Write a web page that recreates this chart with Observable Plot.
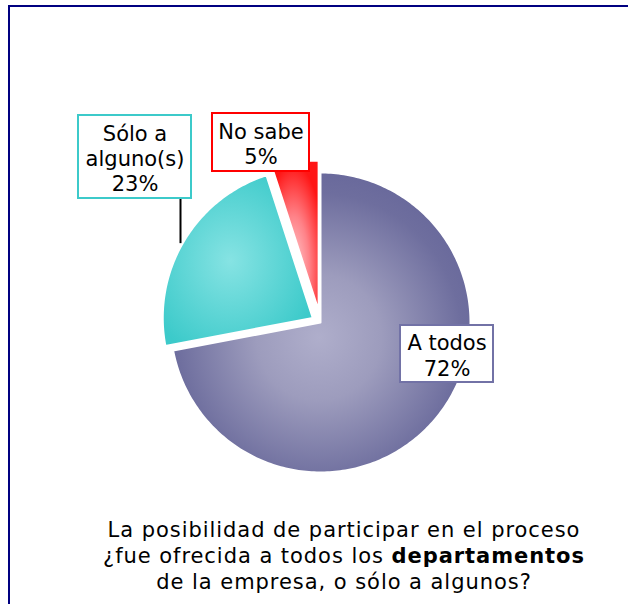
<!DOCTYPE html>
<html><head><meta charset="utf-8">
<script src="https://cdn.jsdelivr.net/npm/d3@7"></script>
<script src="https://cdn.jsdelivr.net/npm/@observablehq/plot@0.6"></script>
<style>
body{margin:0;background:#fff;font-family:"DejaVu Sans",Verdana,sans-serif;}
#root{position:relative;width:628px;height:604px;overflow:hidden;background:#fff}
#frame{position:absolute;left:8px;top:5px;width:640px;height:620px;border-top:2px solid #000080;border-left:2px solid #000080;}
#chart{position:absolute;left:0;top:0}
#caption{position:absolute;left:60px;right:0;top:517px;text-align:center;font-size:21px;line-height:26px;color:#000;letter-spacing:0.95px}
</style></head><body>
<div id="root"><div id="frame"></div><div id="chart"></div>
<div id="caption">La posibilidad de participar en el proceso<br>¿fue ofrecida a todos los <b>departamentos</b><br>de la empresa, o sólo a algunos?</div></div>
<script>
// ---- data ----
const categories = ["A todos", "Sólo a alguno(s)", "No sabe"];
const categoryLines = ["A todos", "Sólo a\nalguno(s)", "No sabe"];
const values = [72, 23, 5];

// ---- layout / style (pixels) ----
const W = 628, H = 500;
const center = [320, 322], radius = 150;
const explode = [0, 9, 12];
const boxStroke = ["#7272a6", "#3ccaca", "#ff0000"];
const boxes = [ // label box: left, top, right, bottom
  [400, 325, 493, 382],
  [78, 115, 191, 198],
  [212, 113, 309, 171]
];
const leaderSlice = 1, leaderX = 180;

const arcs = d3.pie().sort(null)(values);
const points = [];
arcs.forEach((a, i) => {
  const mid = (a.startAngle + a.endAngle) / 2;
  const ox = center[0] + explode[i] * Math.sin(mid);
  const oy = center[1] - explode[i] * Math.cos(mid);
  points.push({k: i, x: ox, y: oy});
  const n = Math.max(4, Math.ceil((a.endAngle - a.startAngle) / (Math.PI / 180)));
  for (let j = 0; j <= n; j++) {
    const t = a.startAngle + (a.endAngle - a.startAngle) * j / n;
    points.push({k: i, x: ox + radius * Math.sin(t), y: oy - radius * Math.cos(t)});
  }
});

const labelData = categories.map((c, i) => ({
  text: categoryLines[i] + "\n" + values[i] + "%",
  x1: boxes[i][0], y1: boxes[i][1], x2: boxes[i][2], y2: boxes[i][3],
  cx: (boxes[i][0] + boxes[i][2]) / 2, cy: (boxes[i][1] + boxes[i][3]) / 2 + 1,
  stroke: boxStroke[i]
}));

// leader: from bottom of box to the slice's arc
let leader;
{
  const a = arcs[leaderSlice];
  const mid = (a.startAngle + a.endAngle) / 2;
  const ox = center[0] + explode[leaderSlice] * Math.sin(mid);
  const oy = center[1] - explode[leaderSlice] * Math.cos(mid);
  const dx = leaderX - ox;
  leader = [{x1: leaderX, y1: boxes[leaderSlice][3], x2: leaderX, y2: oy - Math.sqrt(radius * radius - dx * dx) - 4}];
}

const plot = Plot.plot({
  width: W, height: H,
  margin: 0,
  x: {domain: [0, W], axis: null},
  y: {domain: [0, H], reverse: true, axis: null},
  color: {type: "identity"},
  style: {fontFamily: "DejaVu Sans, Verdana, sans-serif", background: "transparent"},
  marks: [
    ...arcs.map((a, i) => Plot.line(points.filter(p => p.k === i), {
      x: "x", y: "y", curve: "linear-closed",
      fill: `url(#g${i})`, stroke: "white", strokeWidth: 2, strokeLinejoin: "round"
    })),
    Plot.link(leader, {x1: "x1", y1: "y1", x2: "x2", y2: "y2", stroke: "black", strokeWidth: 2}),
    Plot.rect(labelData, {x1: "x1", x2: "x2", y1: "y1", y2: "y2", fill: "white", stroke: "stroke", strokeWidth: 2}),
    Plot.text(labelData, {x: "cx", y: "cy", text: "text", fontSize: 21, lineHeight: 1.2, fill: "black", textAnchor: "middle"})
  ]
});

// radial gradients for slices
const defs = d3.select(plot).insert("defs", ":first-child");
const grads = [
  {cx: 0.49, cy: 0.55, r: 0.6, stops: [[0, "#afaecb"], [0.35, "#9d9cbd"], [0.8, "#6e6e9e"], [1, "#66669a"]]},
  {cx: 0.45, cy: 0.5, r: 0.6, stops: [[0, "#86e3e3"], [1, "#3ccaca"]]},
  {cx: 0.45, cy: 0.72, r: 0.7, stops: [[0, "#ffd0d4"], [0.5, "#ff8288"], [1, "#ff1515"]]}
];
grads.forEach((g, i) => {
  const rg = defs.append("radialGradient").attr("id", `g${i}`)
    .attr("cx", g.cx).attr("cy", g.cy).attr("r", g.r);
  g.stops.forEach(([o, c]) => rg.append("stop").attr("offset", o).attr("stop-color", c));
});
document.getElementById("chart").appendChild(plot);
</script>
</body></html>
